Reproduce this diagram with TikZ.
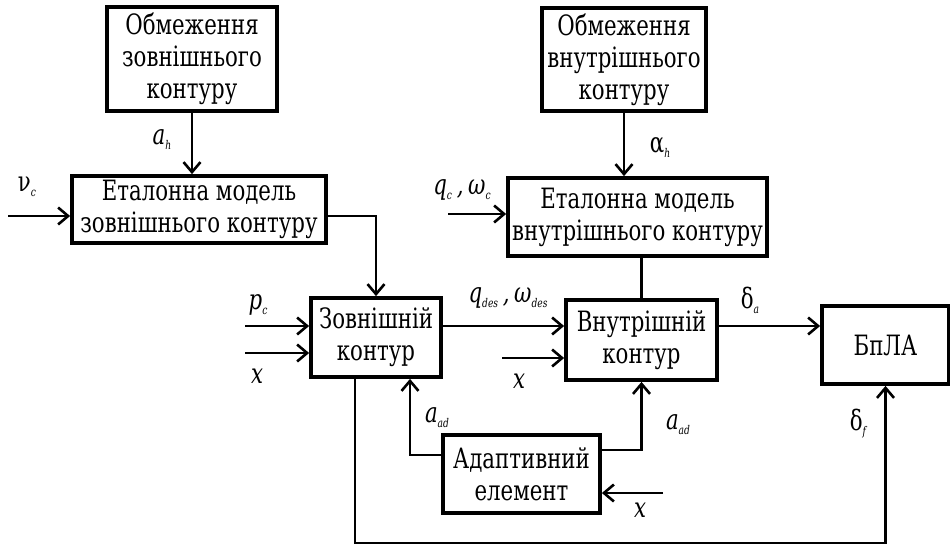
\documentclass[tikz,border=0pt]{standalone}
\usepackage{fontspec}
\setmainfont{DejaVu Serif}[FakeStretch=0.76]
\usetikzlibrary{arrows.meta}
\newcommand{\sig}[2]{#1\raisebox{-5pt}{\fontsize{12}{12}\selectfont\itshape #2}}

\begin{document}
\begin{tikzpicture}[x=1pt,y=-1pt,
	blk/.style={draw,line width=3.8pt,align=center,inner sep=0pt,
		font=\fontsize{28}{32}\selectfont},
	lbl/.style={font=\fontsize{28}{28}\selectfont},
	>={Straight Barb[length=10pt,width=17pt,line width=2.6pt]},
	line width=2.8pt]
	\useasboundingbox (0,0) rectangle (950,546);
	% blocks
	\node[blk,minimum width=170pt,minimum height=104pt] (OZ) at (192,59) {Обмеження\\зовнішнього\\контуру};
	\node[blk,minimum width=254pt,minimum height=67pt] (EZ) at (199,209.5) {Еталонна модель\\зовнішнього контуру};
	\node[blk,minimum width=164pt,minimum height=103pt] (OV) at (624,59.5) {Обмеження\\внутрішнього\\контуру};
	\node[blk,minimum width=259pt,minimum height=78pt] (EV) at (637.5,217) {Еталонна модель\\внутрішнього контуру};
	\node[blk,minimum width=130pt,minimum height=79pt] (ZK) at (376,337.5) {Зовнішній\\контур};
	\node[blk,minimum width=151pt,minimum height=80pt] (VK) at (641.5,340) {Внутрішній\\контур};
	\node[blk,minimum width=127pt,minimum height=78pt] (BL) at (885.5,345) {БпЛА};
	\node[blk,minimum width=157pt,minimum height=78pt] (AE) at (521.5,474) {Адаптивний\\елемент};
	% free ends
	\coordinate (nu) at (8,216);
	\coordinate (pc) at (245,326);
	\coordinate (x1) at (245,353);
	\coordinate (x2) at (502,358);
	\coordinate (qc) at (448,214);
	\coordinate (x3) at (663,493);
	\coordinate (fb) at (355,543);
	\coordinate (adl) at (410,455);
	\coordinate (adr) at (642,450);
	% connectors
	\draw[->] (OZ.south) -- (OZ.south |- EZ.north);
	\draw[->] (nu) -- (nu -| EZ.west);
	\draw[->] (EZ.east |- nu) -| (ZK.north);
	\draw[->] (pc) -- (pc -| ZK.west);
	\draw[->] (x1) -- (x1 -| ZK.west);
	\draw[->] (ZK.east |- pc) -- (VK.west |- pc);
	\draw[->] (x2) -- (x2 -| VK.west);
	\draw[->] (OV.south) -- (OV.south |- EV.north);
	\draw[->] (qc) -- (qc -| EV.west);
	\draw (EV.south -| VK.north) -- (VK.north);
	\draw[->] (VK.east |- pc) -- (BL.west |- pc);
	\draw[->] (fb |- ZK.south) -- (fb) -| (BL.south);
	\draw[->] (AE.west |- adl) -| (adl |- ZK.south);
	\draw[->] (AE.east |- adr) -| (VK.south);
	\draw[->] (x3) -- (x3 -| AE.east);
	% labels
	\node[lbl] at (162,140) {\sig{\itshape a}{h}};
	\node[lbl] at (27,187) {\sig{ν}{c}};
	\node[lbl] at (660,148) {\sig{α}{h}};
	\node[lbl] at (462,190) {\sig{\itshape q}{c}\,,\,\sig{ω}{c}};
	\node[lbl] at (258,305) {\sig{\itshape p}{c}};
	\node[lbl] at (257,376) {\itshape x};
	\node[lbl] at (508,298) {\sig{\itshape q}{des}\,,\,\sig{ω}{des}};
	\node[lbl] at (519,381) {\itshape x};
	\node[lbl] at (750,300) {\sig{δ}{a}};
	\node[lbl] at (437,418) {\sig{\itshape a}{ad}};
	\node[lbl] at (678,425) {\sig{\itshape a}{ad}};
	\node[lbl] at (858,424) {\sig{δ}{f}};
	\node[lbl] at (640,510) {\itshape x};
\end{tikzpicture}
\end{document}
